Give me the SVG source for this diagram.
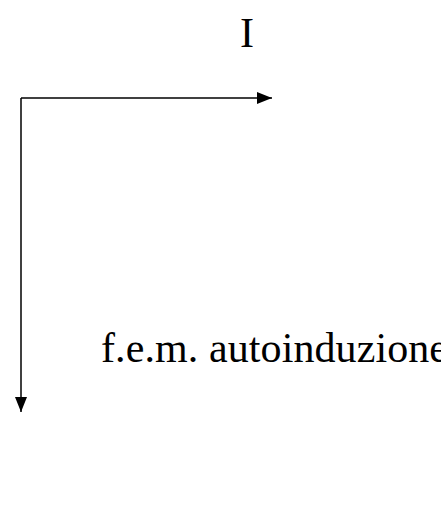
<svg xmlns="http://www.w3.org/2000/svg" width="441" height="507" viewBox="0 0 441 507">
<style>
.lbl{font-family:"Liberation Serif","Times New Roman",serif;font-size:42px;fill:#000}
.ln{stroke:#000;stroke-width:1.5;fill:none}
</style>
<defs>
<marker id="ah" markerWidth="15" markerHeight="12" refX="15" refY="6" orient="auto" markerUnits="userSpaceOnUse">
<path d="M0,0 L15,6 L0,12 Z" fill="#000"/>
</marker>
</defs>
<rect width="441" height="507" fill="#fff"/>
<g id="connectors">
<line class="ln" x1="21" y1="98" x2="272" y2="98" marker-end="url(#ah)"/>
<line class="ln" x1="21" y1="98" x2="21" y2="412" marker-end="url(#ah)"/>
</g>
<g id="label-I"><text class="lbl" x="240" y="47">I</text></g>
<g id="label-fem"><text class="lbl" x="101" y="362" textLength="347" lengthAdjust="spacing">f.e.m. autoinduzione</text></g>
</svg>
